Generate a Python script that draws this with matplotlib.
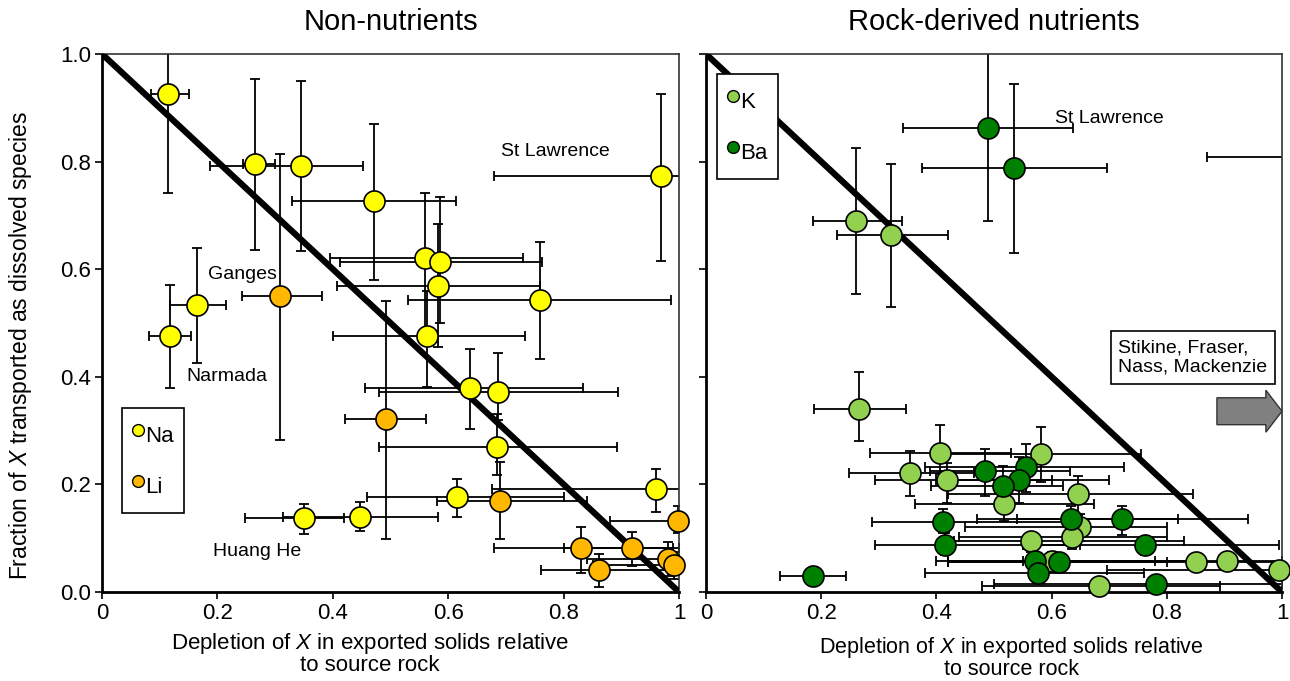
import numpy as np
import matplotlib
matplotlib.use("Agg")
import matplotlib.pyplot as plt
from matplotlib.lines import Line2D
from matplotlib.patches import FancyArrow

plt.rcParams['font.family'] = ['Liberation Sans', 'DejaVu Sans']
plt.rcParams['mathtext.fontset'] = 'custom'
plt.rcParams['mathtext.it'] = 'Liberation Sans:italic'
plt.rcParams['mathtext.rm'] = 'Liberation Sans'

# columns: x, y, x low, x high, y low, y high
na_x = [0.114, 0.265, 0.345, 0.472, 0.969, 0.560, 0.586, 0.582, 0.759, 0.563,
        0.638, 0.687, 0.685, 0.616, 0.960, 0.350, 0.447, 0.117, 0.164]
na_y = [0.926, 0.795, 0.792, 0.727, 0.773, 0.620, 0.614, 0.569, 0.543, 0.475,
        0.380, 0.372, 0.270, 0.177, 0.191, 0.138, 0.140, 0.475, 0.533]
na_xlo = [0.085, 0.244, 0.187, 0.330, 0.680, 0.395, 0.413, 0.407, 0.531, 0.400,
          0.455, 0.480, 0.480, 0.460, 0.675, 0.247, 0.313, 0.082, 0.118]
na_xhi = [0.151, 0.300, 0.452, 0.614, 1.050, 0.730, 0.763, 0.759, 0.986, 0.733,
          0.834, 0.894, 0.892, 0.800, 1.050, 0.420, 0.582, 0.154, 0.214]
na_ylo = [0.742, 0.636, 0.633, 0.580, 0.616, 0.480, 0.500, 0.456, 0.433, 0.381,
          0.303, 0.320, 0.217, 0.140, 0.149, 0.108, 0.113, 0.379, 0.426]
na_yhi = [1.050, 0.953, 0.950, 0.870, 0.926, 0.742, 0.735, 0.684, 0.650, 0.560,
          0.452, 0.444, 0.330, 0.210, 0.229, 0.164, 0.168, 0.570, 0.639]

li_x = [0.309, 0.492, 0.690, 0.830, 0.919, 0.861, 0.980, 0.991, 0.999]
li_y = [0.551, 0.321, 0.170, 0.081, 0.081, 0.040, 0.061, 0.051, 0.132]
li_xlo = [0.242, 0.421, 0.580, 0.680, 0.801, 0.761, 0.840, 0.850, 0.880]
li_xhi = [0.382, 0.561, 0.840, 0.990, 1.000, 0.980, 1.000, 1.000, 1.020]
li_ylo = [0.282, 0.098, 0.098, 0.036, 0.048, 0.010, 0.030, 0.025, 0.110]
li_yhi = [0.815, 0.540, 0.242, 0.121, 0.112, 0.070, 0.092, 0.075, 0.160]

k_x = [0.260, 0.321, 0.266, 0.406, 0.354, 0.418, 0.517, 0.581, 0.646, 0.649,
       0.635, 0.564, 0.600, 0.851, 0.905, 0.995, 0.683, 1.080]
k_y = [0.690, 0.664, 0.341, 0.258, 0.221, 0.208, 0.164, 0.256, 0.182, 0.120,
       0.102, 0.094, 0.058, 0.055, 0.058, 0.040, 0.012, 0.808]
k_xlo = [0.185, 0.227, 0.188, 0.285, 0.248, 0.293, 0.362, 0.410, 0.420, 0.450,
         0.440, 0.430, 0.420, 0.420, 0.550, 0.696, 0.480, 0.869]
k_xhi = [0.341, 0.420, 0.348, 0.530, 0.466, 0.600, 0.674, 0.756, 0.845, 0.800,
         0.800, 0.830, 0.850, 1.000, 1.000, 1.000, 0.892, 1.200]
k_ylo = [0.553, 0.530, 0.280, 0.220, 0.178, 0.166, 0.132, 0.205, 0.143, 0.095,
         0.080, 0.075, 0.040, 0.045, 0.045, 0.030, 0.005, 0.808]
k_yhi = [0.825, 0.796, 0.408, 0.310, 0.263, 0.240, 0.190, 0.306, 0.216, 0.145,
         0.120, 0.110, 0.075, 0.065, 0.070, 0.050, 0.020, 0.808]

ba_x = [0.489, 0.534, 0.484, 0.556, 0.544, 0.516, 0.412, 0.415, 0.185, 0.571,
        0.577, 0.633, 0.722, 0.762, 0.613, 0.781]
ba_y = [0.862, 0.789, 0.224, 0.233, 0.208, 0.197, 0.131, 0.087, 0.030, 0.057,
        0.035, 0.135, 0.135, 0.087, 0.055, 0.014]
ba_xlo = [0.342, 0.375, 0.389, 0.380, 0.400, 0.390, 0.289, 0.293, 0.128, 0.400,
          0.380, 0.470, 0.540, 0.550, 0.420, 0.500]
ba_xhi = [0.638, 0.696, 0.632, 0.726, 0.700, 0.620, 0.630, 0.650, 0.243, 0.780,
          0.760, 0.820, 0.941, 0.995, 0.800, 1.000]
ba_ylo = [0.690, 0.631, 0.178, 0.185, 0.166, 0.160, 0.110, 0.069, 0.030, 0.045,
          0.025, 0.110, 0.106, 0.069, 0.045, 0.005]
ba_yhi = [1.050, 0.944, 0.266, 0.275, 0.250, 0.235, 0.154, 0.110, 0.030, 0.070,
          0.045, 0.160, 0.160, 0.103, 0.065, 0.025]

c_na = '#FFFF00'
c_li = '#FFB700'
c_k = '#92D050'
c_ba = '#008000'

xlabel_text = 'Depletion of $\\it{X}$ in exported solids relative\nto source rock'


def plot_series(ax, x, y, xlo, xhi, ylo, yhi, color):
    x = np.array(x); y = np.array(y)
    xerr = [x - np.array(xlo), np.array(xhi) - x]
    yerr = [y - np.array(ylo), np.array(yhi) - y]
    ax.errorbar(x, y, xerr=xerr, yerr=yerr, fmt='none', ecolor='black',
                elinewidth=1.3, capsize=3.5, capthick=1.3, zorder=2)
    inside = x <= 1.0
    ax.scatter(x[inside], y[inside], s=230, c=color, edgecolors='black',
               linewidths=1.2, zorder=4, clip_on=False)


def style_axes(ax, ylabels=True):
    ax.set_xlim(0, 1)
    ax.set_ylim(0, 1)
    ax.plot([0, 1], [1, 0], color='black', lw=4.5, zorder=3, solid_capstyle='butt')
    ax.set_xticks([0, 0.2, 0.4, 0.6, 0.8, 1.0])
    ax.set_xticklabels(['0', '0.2', '0.4', '0.6', '0.8', '1'])
    ax.set_yticks([0, 0.2, 0.4, 0.6, 0.8, 1.0])
    if ylabels:
        ax.set_yticklabels(['0.0', '0.2', '0.4', '0.6', '0.8', '1.0'])
    else:
        ax.set_yticklabels([])
    ax.tick_params(direction='out', length=5, width=1.2, labelsize=16, pad=3)
    for s in ['left', 'bottom']:
        ax.spines[s].set_linewidth(2)
        ax.spines[s].set_color('black')
    for s in ['top', 'right']:
        ax.spines[s].set_linewidth(1.2)
        ax.spines[s].set_color('#333333')


def make_legend(ax, labels, colors, anchor):
    handles = [Line2D([], [], marker='o', ls='none', markersize=8.5, markerfacecolor=c,
                      markeredgecolor='black', label=l) for l, c in zip(labels, colors)]
    leg = ax.legend(handles=handles, loc='upper left', bbox_to_anchor=anchor,
                    frameon=True, fancybox=False, edgecolor='black', framealpha=1,
                    fontsize=16, handlelength=0.5, handleheight=2.0, handletextpad=0.1,
                    labelspacing=0.75, borderpad=0.45, borderaxespad=0)
    leg.get_frame().set_linewidth(1.2)
    leg.set_zorder(6)


fig = plt.figure(figsize=(12.9, 6.81), dpi=100)
ax1 = fig.add_axes([0.0791, 0.1307, 0.4473, 0.790])
ax2 = fig.add_axes([0.5473, 0.1307, 0.4465, 0.790])

# left panel
plot_series(ax1, na_x, na_y, na_xlo, na_xhi, na_ylo, na_yhi, c_na)
plot_series(ax1, li_x, li_y, li_xlo, li_xhi, li_ylo, li_yhi, c_li)
style_axes(ax1)
ax1.set_title('Non-nutrients', fontsize=21, pad=17)
ax1.set_ylabel(r'Fraction of $\it{X}$ transported as dissolved species', fontsize=16.5)
ax1.yaxis.set_label_coords(-0.118, 0.458)
ax1.text(0.464, -0.073, xlabel_text, transform=ax1.transAxes, ha='center', va='top',
         fontsize=16, linespacing=0.95)
ax1.text(0.785, 0.818, 'St Lawrence', fontsize=14, ha='center', va='center')
ax1.text(0.244, 0.591, 'Ganges', fontsize=14, ha='center', va='center')
ax1.text(0.217, 0.401, 'Narmada', fontsize=14, ha='center', va='center')
ax1.text(0.269, 0.076, 'Huang He', fontsize=14, ha='center', va='center')
make_legend(ax1, ['Na', 'Li'], [c_na, c_li], (0.035, 0.342))

# right panel
plot_series(ax2, k_x, k_y, k_xlo, k_xhi, k_ylo, k_yhi, c_k)
plot_series(ax2, ba_x, ba_y, ba_xlo, ba_xhi, ba_ylo, ba_yhi, c_ba)
style_axes(ax2, ylabels=False)
ax2.set_title('Rock-derived nutrients', fontsize=21, pad=17)
ax2.text(0.53, -0.080, xlabel_text, transform=ax2.transAxes, ha='center', va='top',
         fontsize=15.5, linespacing=0.92)
ax2.text(0.700, 0.881, 'St Lawrence', fontsize=14, ha='center', va='center')
ax2.text(0.716, 0.436, 'Stikine, Fraser,\nNass, Mackenzie', fontsize=14, ha='left',
         va='center', linespacing=1.2,
         bbox=dict(boxstyle='square,pad=0.4', fc='white', ec='black', lw=1.2))
ax2.add_patch(FancyArrow(0.887, 0.336, 0.085, 0, width=0.05, head_width=0.078,
                         head_length=0.028, length_includes_head=False,
                         fc='#808080', ec='#333333', lw=1, zorder=5, clip_on=False))
make_legend(ax2, ['K', 'Ba'], [c_k, c_ba], (0.019, 0.963))

fig.savefig('out.png', dpi=100)
